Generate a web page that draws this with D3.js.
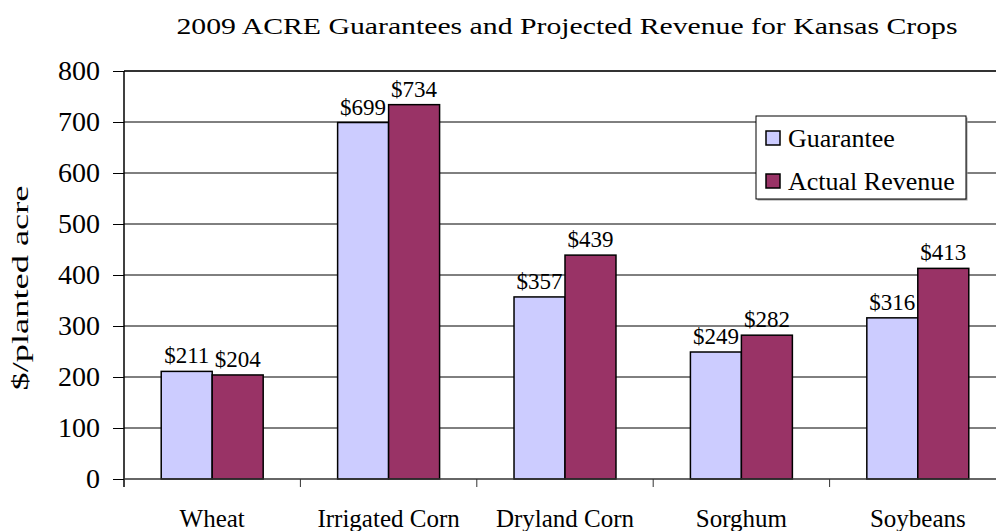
<!DOCTYPE html>
<html>
<head>
<meta charset="utf-8">
<script src="https://cdn.jsdelivr.net/npm/d3@7"></script>
<style>
  body { margin: 0; background: #fff; }
</style>
</head>
<body>
<svg></svg>
<script>
// Data
const categories = ["Wheat", "Irrigated Corn", "Dryland Corn", "Sorghum", "Soybeans"];
const seriesNames = ["Guarantee", "Actual Revenue"];
const guarantee = [211, 699, 357, 249, 316];
const actualRevenue = [204, 734, 439, 282, 413];
const yTicks = [0, 100, 200, 300, 400, 500, 600, 700, 800];
const titleText = "2009 ACRE Guarantees and Projected Revenue for Kansas Crops";
const yLabel = "$/planted acre";

const colors = ["#CCCCFF", "#993366"];
const serif = "Liberation Serif";

// Dimensions
const width = 996;
const height = 531;
const margin = { top: 71, right: -10, bottom: 52, left: 124 };

const svg = d3.select("svg")
  .attr("width", width)
  .attr("height", height);

// Scales
const x0 = d3.scaleBand()
  .domain(categories)
  .range([margin.left, width - margin.right])
  .padding(0);

const x1 = d3.scaleBand()
  .domain(seriesNames)
  .range([0, x0.bandwidth()])
  .paddingInner(0)
  .paddingOuter(0.73);

const y = d3.scaleLinear()
  .domain([0, 800])
  .range([height - margin.bottom, margin.top]);

// Gridlines
svg.append("g")
  .selectAll("line")
  .data(yTicks.filter(d => d > 0))
  .join("line")
  .attr("x1", margin.left)
  .attr("x2", width - margin.right)
  .attr("y1", d => y(d))
  .attr("y2", d => y(d))
  .attr("stroke", d => d === 800 ? "#333" : "#000")
  .attr("stroke-width", d => d === 800 ? 2 : 1);

// Y-axis
const yAxis = svg.append("g")
  .attr("transform", `translate(${margin.left},0)`)
  .call(d3.axisLeft(y).tickValues(yTicks).tickSize(11).tickPadding(13).tickSizeOuter(0))
  .attr("font-family", serif)
  .attr("font-size", 28);
yAxis.select(".domain").remove();
yAxis.selectAll(".tick line").attr("stroke", "#000");
yAxis.selectAll(".tick text").attr("fill", "#000");

// Bars
const rows = categories.map((c, i) => ({ cat: c, values: [guarantee[i], actualRevenue[i]] }));

const groups = svg.append("g")
  .selectAll("g")
  .data(rows)
  .join("g")
  .attr("transform", d => `translate(${x0(d.cat)},0)`);

groups.selectAll("rect")
  .data(d => d.values.map((v, j) => ({ name: seriesNames[j], value: v, j })))
  .join("rect")
  .attr("x", d => x1(d.name))
  .attr("y", d => y(d.value))
  .attr("width", x1.bandwidth())
  .attr("height", d => y(0) - y(d.value))
  .attr("fill", d => colors[d.j])
  .attr("stroke", "#000")
  .attr("stroke-width", 1.5);

// Data labels
groups.selectAll("text")
  .data(d => d.values.map((v, j) => ({ name: seriesNames[j], value: v })))
  .join("text")
  .attr("x", d => x1(d.name) + x1.bandwidth() / 2)
  .attr("y", d => y(d.value) - 8)
  .attr("text-anchor", "middle")
  .attr("font-size", 23)
  .text(d => "$" + d.value);

// Axis lines
svg.append("line")
  .attr("x1", margin.left).attr("x2", margin.left)
  .attr("y1", margin.top).attr("y2", y(0) + 8)
  .attr("stroke", "#000").attr("stroke-width", 1.5);

svg.append("line")
  .attr("x1", margin.left).attr("x2", width - margin.right)
  .attr("y1", y(0)).attr("y2", y(0))
  .attr("stroke", "#333").attr("stroke-width", 1.5);

// Category ticks (between bands)
svg.append("g")
  .selectAll("line")
  .data(categories.slice(1))
  .join("line")
  .attr("x1", d => x0(d)).attr("x2", d => x0(d))
  .attr("y1", y(0)).attr("y2", y(0) + 8)
  .attr("stroke", "#333");

// Category labels
svg.append("g")
  .selectAll("text")
  .data(categories)
  .join("text")
  .attr("x", d => x0(d) + x0.bandwidth() / 2)
  .attr("y", 527)
  .attr("text-anchor", "middle")
  .attr("font-size", 25)
  .text(d => d);

// Title
svg.append("text")
  .attr("x", 567)
  .attr("y", 34)
  .attr("text-anchor", "middle")
  .attr("textLength", 781)
  .attr("lengthAdjust", "spacingAndGlyphs")
  .attr("font-size", 23)
  .text(titleText);

// Y label
svg.append("text")
  .attr("transform", "translate(28,288) rotate(-90)")
  .attr("text-anchor", "middle")
  .attr("textLength", 205)
  .attr("lengthAdjust", "spacingAndGlyphs")
  .attr("font-size", 24)
  .text(yLabel);

// Legend
const legend = svg.append("g").attr("transform", "translate(756,116)");
legend.append("rect")
  .attr("x", 1.5).attr("y", 1.5)
  .attr("width", 210).attr("height", 83)
  .attr("fill", "#999");
legend.append("rect")
  .attr("width", 210).attr("height", 83)
  .attr("fill", "#fff")
  .attr("stroke", "#000");

const items = legend.selectAll(".item")
  .data(seriesNames)
  .join("g")
  .attr("class", "item")
  .attr("transform", (d, i) => `translate(10,${22 + i * 43})`);

items.append("rect")
  .attr("y", -7).attr("width", 14).attr("height", 14)
  .attr("fill", (d, i) => colors[i])
  .attr("stroke", "#000")
  .attr("stroke-width", 1.5);

items.append("text")
  .attr("x", 22)
  .attr("y", 9)
  .attr("font-size", 26)
  .text(d => d);

// Same serif face on every label
svg.selectAll("text").attr("font-family", serif);
</script>
</body>
</html>
